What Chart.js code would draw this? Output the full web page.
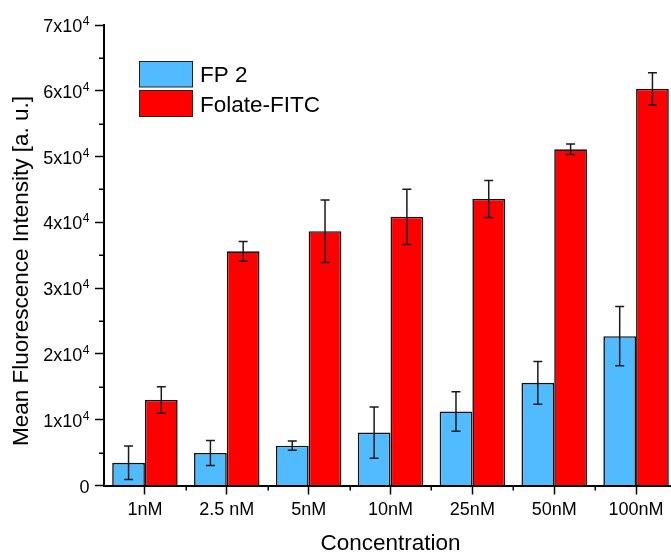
<!DOCTYPE html>
<html>
<head>
<meta charset="utf-8">
<script src="https://cdn.jsdelivr.net/npm/chart.js@4.4.0/dist/chart.umd.min.js"></script>
<style>
  html, body { margin: 0; padding: 0; background: #fff; overflow: hidden; }
  #wrap { width: 680px; height: 554px; }
</style>
</head>
<body>
<div id="wrap"><canvas id="fluoChart" width="680" height="554"></canvas></div>
<script>
const concentrations = ['1nM', '2.5 nM', '5nM', '10nM', '25nM', '50nM', '100nM'];
const fp2Values = [3450, 4950, 6050, 8050, 11250, 15600, 22700];
const fp2Errors = [2550, 1900, 700, 3900, 3000, 3250, 4500];
const folateValues = [13000, 35600, 38650, 40850, 43550, 51100, 60300];
const folateErrors = [2000, 1500, 4750, 4200, 2800, 800, 2450];
const yTickValues = [0, 10000, 20000, 30000, 40000, 50000, 60000, 70000];
const yTickLabels = ['0', '1x10^4', '2x10^4', '3x10^4', '4x10^4', '5x10^4', '6x10^4', '7x10^4'];
const yTitle = 'Mean Fluorescence Intensity [a. u.]';
const xTitle = 'Concentration';

const FONT = '"Liberation Sans", Arial, sans-serif';

// error bars, minor ticks, superscript labels, y title and legend
const extras = {
  id: 'extras',
  afterDatasetsDraw(chart) {
    const ctx = chart.ctx;
    const y = chart.scales.y;
    ctx.save();
    ctx.strokeStyle = '#1a1a1a';
    ctx.lineWidth = 1.5;
    chart.data.datasets.forEach((ds, d) => {
      chart.getDatasetMeta(d).data.forEach((bar, i) => {
        const top = y.getPixelForValue(ds.data[i] + ds.errors[i]);
        const bot = y.getPixelForValue(ds.data[i] - ds.errors[i]);
        ctx.beginPath();
        ctx.moveTo(bar.x, top); ctx.lineTo(bar.x, bot);
        ctx.moveTo(bar.x - 4.5, top); ctx.lineTo(bar.x + 4.5, top);
        ctx.moveTo(bar.x - 4.5, bot); ctx.lineTo(bar.x + 4.5, bot);
        ctx.stroke();
      });
    });
    ctx.restore();
  },
  afterDraw(chart) {
    const ctx = chart.ctx;
    const area = chart.chartArea;
    const xs = chart.scales.x;
    const ys = chart.scales.y;
    ctx.save();

    // minor ticks
    ctx.strokeStyle = '#000';
    ctx.lineWidth = 1.5;
    ctx.beginPath();
    for (let v = 5000; v < 70000; v += 10000) {
      const py = Math.round(ys.getPixelForValue(v)) + 0.25;
      ctx.moveTo(area.left - 5, py); ctx.lineTo(area.left, py);
    }
    for (let i = 1; i < concentrations.length; i++) {
      const px = Math.round(xs.getPixelForValue(i - 0.5)) + 0.25;
      ctx.moveTo(px, area.bottom); ctx.lineTo(px, area.bottom + 5);
    }
    ctx.stroke();

    // y tick labels with superscript
    ctx.fillStyle = '#000';
    ctx.textAlign = 'right';
    ctx.textBaseline = 'alphabetic';
    yTickLabels.forEach((lab, i) => {
      const py = ys.getPixelForValue(yTickValues[i]);
      const parts = lab.split('^');
      let right = 89.5;
      if (parts[1]) {
        ctx.font = '12px ' + FONT;
        ctx.fillText(parts[1], right, py);
        right -= ctx.measureText(parts[1]).width + 0.5;
      }
      ctx.font = '18px ' + FONT;
      ctx.fillText(parts[0], right, py + 7);
    });

    // y title
    ctx.save();
    ctx.translate(27.5, 271);
    ctx.rotate(-Math.PI / 2);
    ctx.textAlign = 'center';
    ctx.font = '22.5px ' + FONT;
    ctx.fillText(yTitle, 0, 0);
    ctx.restore();

    // legend
    const boxes = [[61.5, 25.5], [90.5, 26]];
    chart.data.datasets.forEach((ds, d) => {
      const [by, bh] = boxes[d];
      ctx.fillStyle = ds.backgroundColor;
      ctx.fillRect(139.5, by, 53, bh);
      ctx.strokeStyle = '#222';
      ctx.lineWidth = 1;
      ctx.strokeRect(139.5, by, 53, bh);
      ctx.fillStyle = '#000';
      ctx.textAlign = 'left';
      ctx.font = '22.5px ' + FONT;
      ctx.fillText(ds.label, 200, by + bh / 2 + 8);
    });

    ctx.restore();
  }
};

document.addEventListener('DOMContentLoaded', () => {
  const ctx = document.getElementById('fluoChart').getContext('2d');
  const fluoChart = new Chart(ctx, {
    type: 'bar',
    data: {
      labels: concentrations,
      datasets: [{
        label: 'FP 2',
        data: fp2Values,
        errors: fp2Errors,
        backgroundColor: '#50BBFF',
        borderColor: '#111',
        borderWidth: 1.6
      }, {
        label: 'Folate-FITC',
        data: folateValues,
        errors: folateErrors,
        backgroundColor: '#FF0000',
        borderColor: '#111',
        borderWidth: 1.6
      }]
    },
    options: {
      responsive: false,
      animation: false,
      categoryPercentage: 0.8,
      barPercentage: 1.0,
      layout: { padding: { left: 0, top: 25, right: 3, bottom: 0 } },
      plugins: {
        legend: { display: false },
        tooltip: { enabled: false }
      },
      scales: {
        x: {
          z: 1,
          grid: {
            offset: false,
            drawOnChartArea: false,
            tickLength: 9,
            tickWidth: 1.5,
            tickColor: '#000'
          },
          border: { color: '#000', width: 2 },
          ticks: {
            color: '#000',
            font: { family: FONT, size: 18 },
            padding: 5,
            maxRotation: 0,
            autoSkip: false
          },
          title: {
            display: true,
            text: xTitle,
            color: '#000',
            font: { family: FONT, size: 22.5, lineHeight: 0.9 },
            padding: 0
          },
          afterFit: (scale) => { scale.height = 68.5; }
        },
        y: {
          z: 1,
          min: 0,
          max: 70000,
          ticks: { stepSize: 10000, display: false },
          grid: {
            drawOnChartArea: false,
            tickLength: 9,
            tickWidth: 1.5,
            tickColor: '#000'
          },
          border: { color: '#000', width: 2 },
          afterFit: (scale) => { scale.width = 104; }
        }
      }
    },
    plugins: [extras]
  });
});
</script>
</body>
</html>
